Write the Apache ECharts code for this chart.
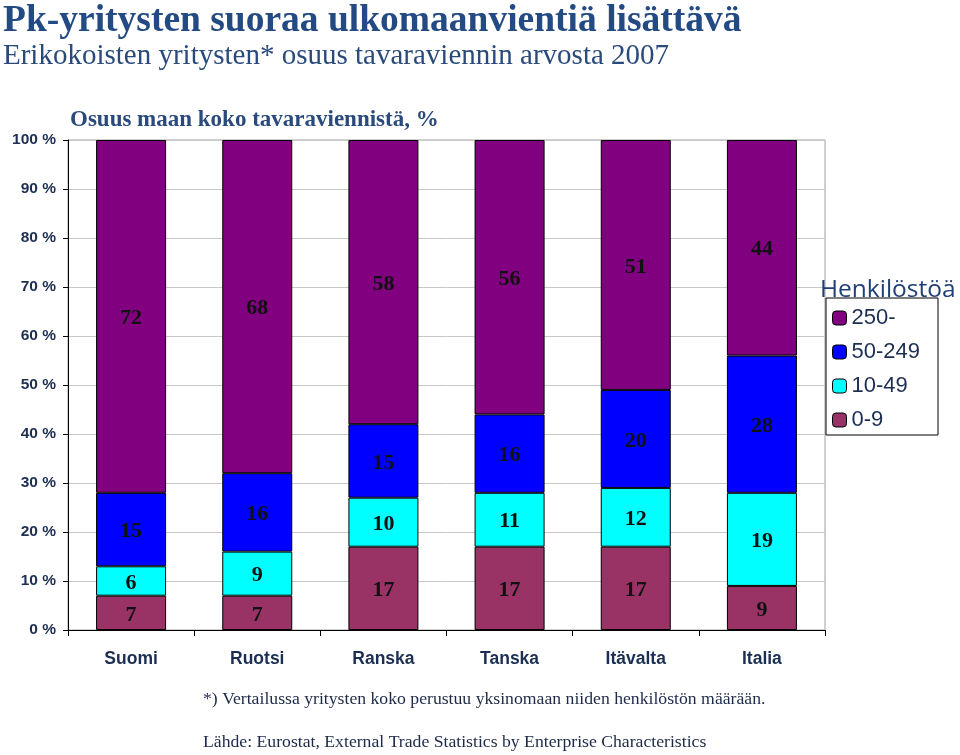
<!DOCTYPE html>
<html><head><meta charset="utf-8">
<script src="https://cdn.jsdelivr.net/npm/echarts@6/dist/echarts.min.js"></script>
<style>html,body{margin:0;padding:0;background:#fff}#c{width:960px;height:755px}</style>
</head><body><div id="c"></div>
<script>
const categories = ['Suomi','Ruotsi','Ranska','Tanska','Itävalta','Italia'];
const s0_9 = [7, 7, 17, 17, 17, 9];
const s10_49 = [6, 9, 10, 11, 12, 19];
const s50_249 = [15, 16, 15, 16, 20, 28];
const s250 = [72, 68, 58, 56, 51, 44];
const seriesNames = ['0-9','10-49','50-249','250-'];
const legendOrder = ['250-','50-249','10-49','0-9'];

const colors = {'0-9':'#993366','10-49':'#00FFFF','50-249':'#0000FF','250-':'#800080'};
const dataMap = {'0-9':s0_9,'10-49':s10_49,'50-249':s50_249,'250-':s250};
const chart = echarts.init(document.getElementById('c'));
const navy = '#1c2f52';
chart.setOption({
  animation:false,
  grid:{left:68,right:135,top:140,bottom:125,show:true,borderColor:'#a0a0a0',borderWidth:1,backgroundColor:'transparent'},
  title:[
    {text:'Pk-yritysten suoraa ulkomaanvientiä lisättävä',left:-2,top:-3,textStyle:{fontFamily:'Liberation Serif',fontWeight:'bold',fontSize:37.5,color:'#244a84'}},
    {text:'Erikokoisten yritysten* osuus tavaraviennin arvosta 2007',left:-2,top:37,textStyle:{fontFamily:'Liberation Serif',fontWeight:'normal',fontSize:29,color:'#2a4a7c'}},
    {text:'Osuus maan koko tavaraviennistä, %',left:65,top:104,textStyle:{fontFamily:'Liberation Serif',fontWeight:'bold',fontSize:23,color:'#2a4a7c'}},
    {text:'*) Vertailussa yritysten koko perustuu yksinomaan niiden henkilöstön määrään.',left:198,top:685,textStyle:{fontFamily:'Liberation Serif',fontWeight:'normal',fontSize:17.7,color:'#1c2a48'}},
    {text:'Lähde: Eurostat, External Trade Statistics by Enterprise Characteristics',left:198,top:728,textStyle:{fontFamily:'Liberation Serif',fontWeight:'normal',fontSize:17.7,color:'#1c2a48'}},
    {text:'Henkilöstöä',left:815,top:273,textStyle:{fontFamily:'Open Sans',fontWeight:'normal',fontSize:24.5,color:'#1f3f75'}}
  ],
  legend:{
    data:legendOrder,
    orient:'vertical',left:826,top:298,
    padding:[9,18,4,6],itemGap:12,itemWidth:14,itemHeight:14,
    borderColor:'#000',borderWidth:1,backgroundColor:'#fff',
    textStyle:{fontFamily:'Liberation Sans',fontSize:22,color:'#1c2f52'},
    itemStyle:{borderColor:'#000',borderWidth:1}
  },
  xAxis:{type:'category',data:categories,
    axisLine:{lineStyle:{color:'#000',width:1}},
    axisTick:{show:true,length:6,lineStyle:{color:'#000'}},
    axisLabel:{fontFamily:'Liberation Sans',fontWeight:'bold',fontSize:17.5,color:navy,margin:20}},
  yAxis:{type:'value',min:0,max:100,interval:10,
    axisLine:{show:true,lineStyle:{color:'#000'}},
    axisTick:{show:true,length:5,lineStyle:{color:'#000'}},
    splitLine:{lineStyle:{color:'#c8c8c8'}},
    axisLabel:{fontFamily:'Liberation Sans',fontWeight:'bold',fontSize:15.5,color:navy,margin:12,formatter:v=>v+' %'}},
  series:seriesNames.map(n=>({
    name:n,type:'bar',stack:'a',barWidth:70,data:dataMap[n],
    itemStyle:{color:colors[n],borderColor:'#000',borderWidth:1},
    label:{show:true,position:'inside',offset:[0,2],fontFamily:'Liberation Serif',fontWeight:'bold',fontSize:22,color:'#111'}
  }))
});
</script></body></html>
